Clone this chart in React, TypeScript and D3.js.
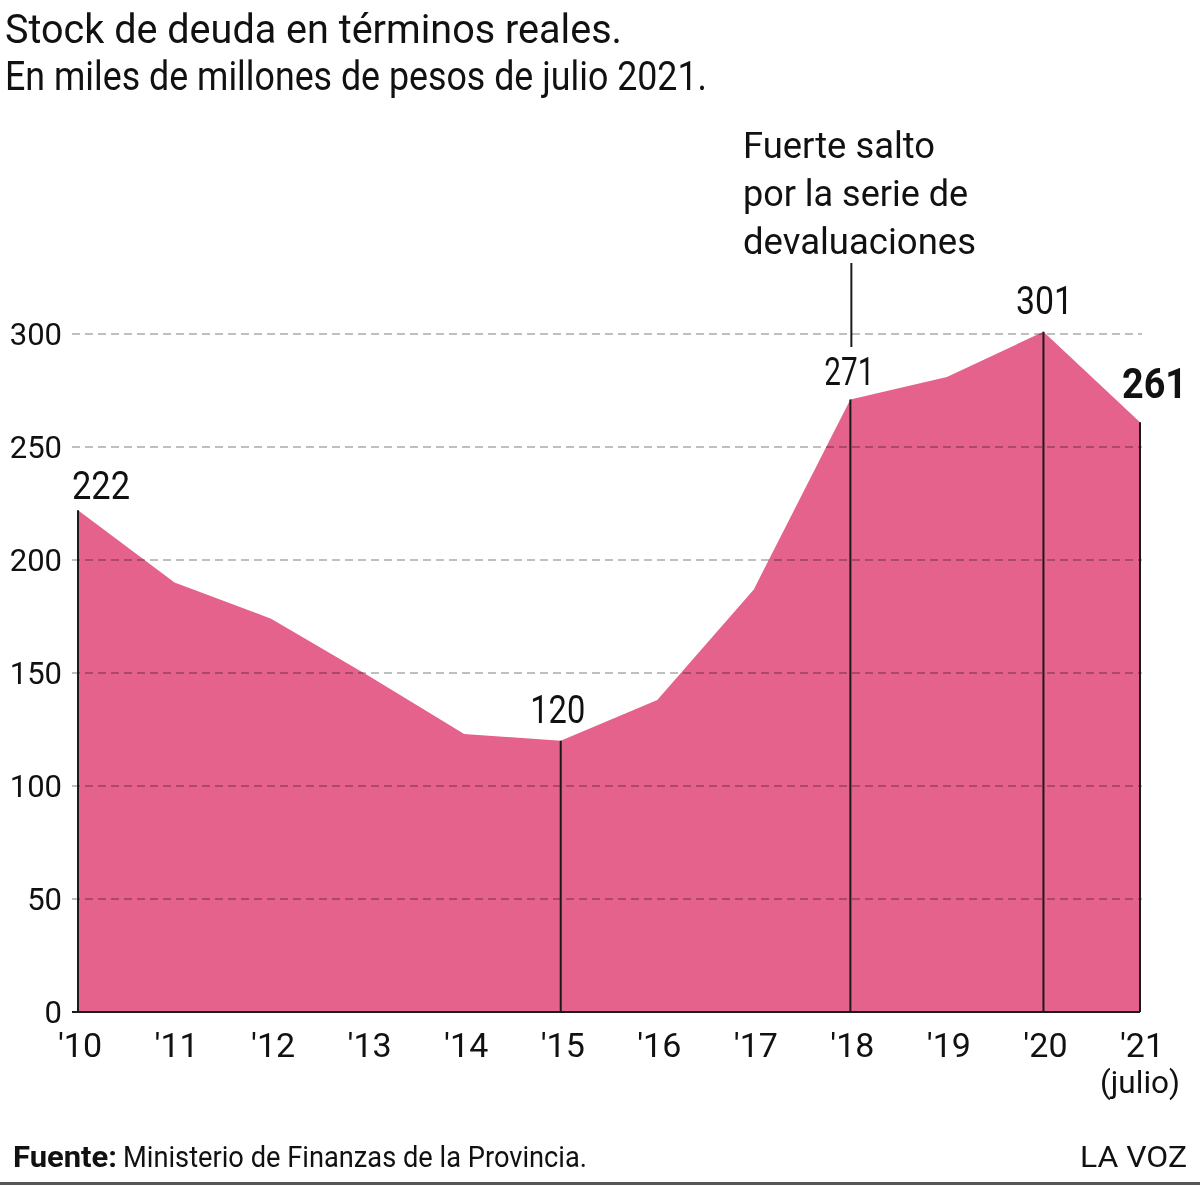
import React, { useRef, useEffect } from 'react';
import * as d3 from 'd3';

// data
const years = ["'10", "'11", "'12", "'13", "'14", "'15", "'16", "'17", "'18", "'19", "'20", "'21"];
const debt = [222, 190, 174, 149, 123, 120, 138, 187, 271, 281, 301, 261];
const yTicks = [0, 50, 100, 150, 200, 250, 300];
const markedYears = ["'10", "'15", "'18", "'20", "'21"];

const titleLines = [
  "Stock de deuda en términos reales.",
  "En miles de millones de pesos de julio 2021."
];
const noteLines = ["Fuerte salto", "por la serie de", "devaluaciones"];
const sourceLabel = "Fuente:";
const sourceText = "Ministerio de Finanzas de la Provincia.";
const brand = "LA VOZ";

const W = 1200;
const H = 1187;
const FONT = "Roboto, 'Noto Sans', sans-serif";
const PINK = "#e4628b";

const App = () => {
  const svgRef = useRef<SVGSVGElement | null>(null);

  useEffect(() => {
    const svg = d3.select(svgRef.current);
    svg.selectAll('*').remove();

    const x = d3.scalePoint<string>().domain(years).range([78, 1140]);
    const y = d3.scaleLinear().domain([0, 300]).range([1012, 334]);

    const rows = years.map((yr, i) => ({ yr, v: debt[i] }));

    // title
    svg.selectAll("text.title")
      .data(titleLines)
      .enter()
      .append("text")
      .attr("class", "title")
      .attr("x", 5)
      .attr("y", (d, i) => 43 + i * 47)
      .attr("font-size", 41)
      .attr("textLength", (d, i) => (i === 0 ? 617 : 702))
      .attr("lengthAdjust", "spacingAndGlyphs")
      .attr("fill", "#111")
      .text(d => d);

    // area
    const area = d3.area<{ yr: string; v: number }>()
      .x(d => x(d.yr)!)
      .y0(y(0))
      .y1(d => y(d.v));

    svg.append("path")
      .datum(rows)
      .attr("d", area)
      .attr("fill", PINK);

    // grid lines, drawn over the area
    svg.append("g")
      .selectAll("line")
      .data(yTicks.filter(t => t > 0))
      .enter()
      .append("line")
      .attr("x1", 72)
      .attr("x2", 1142)
      .attr("y1", d => y(d))
      .attr("y2", d => y(d))
      .attr("stroke", "#aaa")
      .attr("stroke-width", 1.5)
      .attr("stroke-dasharray", "8,5")
      .style("mix-blend-mode", "multiply");

    // vertical marker lines
    svg.append("g")
      .selectAll("line")
      .data(rows.filter(r => markedYears.includes(r.yr)))
      .enter()
      .append("line")
      .attr("x1", d => x(d.yr)!)
      .attr("x2", d => x(d.yr)!)
      .attr("y1", d => y(d.v))
      .attr("y2", y(0))
      .attr("stroke", "#1a1a1a")
      .attr("stroke-width", 2);

    // baseline
    svg.append("line")
      .attr("x1", 72)
      .attr("x2", x("'21")!)
      .attr("y1", y(0))
      .attr("y2", y(0))
      .attr("stroke", "#1a1a1a")
      .attr("stroke-width", 2);

    // y axis labels
    svg.append("g")
      .selectAll("text")
      .data(yTicks)
      .enter()
      .append("text")
      .attr("x", 62)
      .attr("y", d => y(d) + 11)
      .attr("text-anchor", "end")
      .attr("font-size", 31)
      .attr("fill", "#111")
      .text(d => d);

    // x axis labels
    svg.append("g")
      .selectAll("text")
      .data(years)
      .enter()
      .append("text")
      .attr("x", d => x(d)! + 2)
      .attr("y", 1057)
      .attr("text-anchor", "middle")
      .attr("font-size", 34)
      .attr("fill", "#111")
      .text(d => d);

    svg.append("text")
      .attr("x", x("'21")!)
      .attr("y", 1093)
      .attr("text-anchor", "middle")
      .attr("font-size", 32)
      .attr("textLength", 80)
      .attr("lengthAdjust", "spacingAndGlyphs")
      .attr("fill", "#111")
      .text("(julio)");

    // value labels
    const valueLabels = [
      { yr: "'10", anchor: "start", dx: -6, dy: -11, w: 58, bold: false },
      { yr: "'15", anchor: "middle", dx: -3, dy: -18, w: 55, bold: false },
      { yr: "'18", anchor: "middle", dx: -1, dy: -15, w: 50, bold: false },
      { yr: "'20", anchor: "middle", dx: 1, dy: -18, w: 57, bold: false },
      { yr: "'21", anchor: "start", dx: -18, dy: -24, w: 65, bold: true },
    ];
    svg.append("g")
      .selectAll("text")
      .data(valueLabels)
      .enter()
      .append("text")
      .attr("x", d => x(d.yr)! + d.dx)
      .attr("y", d => y(debt[years.indexOf(d.yr)]) + d.dy)
      .attr("text-anchor", d => d.anchor)
      .attr("font-size", d => (d.bold ? 43 : 39))
      .attr("font-weight", d => (d.bold ? 700 : 400))
      .attr("textLength", d => d.w)
      .attr("lengthAdjust", "spacingAndGlyphs")
      .attr("fill", "#111")
      .text(d => debt[years.indexOf(d.yr)]);

    // annotation
    const noteX = x("'18")!;
    svg.append("line")
      .attr("x1", noteX + 1)
      .attr("x2", noteX + 1)
      .attr("y1", 263)
      .attr("y2", 347)
      .attr("stroke", "#1a1a1a")
      .attr("stroke-width", 2);

    svg.append("g")
      .selectAll("text")
      .data(noteLines)
      .enter()
      .append("text")
      .attr("x", 743)
      .attr("y", (d, i) => 158 + i * 48)
      .attr("font-size", 37)
      .attr("textLength", (d, i) => [192, 225, 233][i])
      .attr("lengthAdjust", "spacingAndGlyphs")
      .attr("fill", "#111")
      .text(d => d);

    // footer
    svg.append("text")
      .attr("x", 13)
      .attr("y", 1167)
      .attr("font-size", 30)
      .attr("font-weight", 700)
      .attr("textLength", 104)
      .attr("lengthAdjust", "spacingAndGlyphs")
      .attr("fill", "#111")
      .text(sourceLabel);

    svg.append("text")
      .attr("x", 123)
      .attr("y", 1167)
      .attr("font-size", 30)
      .attr("textLength", 464)
      .attr("lengthAdjust", "spacingAndGlyphs")
      .attr("fill", "#111")
      .text(sourceText);

    svg.append("text")
      .attr("x", 1187)
      .attr("y", 1167)
      .attr("text-anchor", "end")
      .attr("font-size", 30)
      .attr("textLength", 107)
      .attr("lengthAdjust", "spacingAndGlyphs")
      .attr("fill", "#111")
      .text(brand);

    svg.append("line")
      .attr("x1", 0)
      .attr("x2", W)
      .attr("y1", 1183.5)
      .attr("y2", 1183.5)
      .attr("stroke", "#555")
      .attr("stroke-width", 3);
  }, []);

  return (
    <svg
      ref={svgRef}
      width={W}
      height={H}
      style={{ position: "absolute", left: 0, top: 0, background: "#fff", fontFamily: FONT }}
    ></svg>
  );
};

export default App;
